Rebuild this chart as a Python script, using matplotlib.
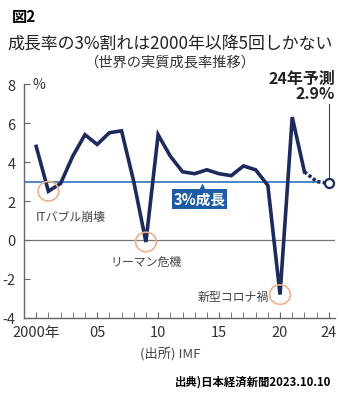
import matplotlib.pyplot as plt
from matplotlib.patches import Ellipse

plt.rcParams['font.family'] = ['Noto Sans CJK JP', 'DejaVu Sans']

years = list(range(2000, 2025))
growth = [4.8, 2.5, 2.9, 4.3, 5.4, 4.9, 5.5, 5.6, 3.0, -0.1,
          5.4, 4.3, 3.5, 3.4, 3.6, 3.4, 3.3, 3.8, 3.6, 2.8,
          -2.8, 6.3, 3.5, 3.0, 2.9]
last_actual = 2022
xtick_pos = [2000, 2005, 2010, 2015, 2020, 2024]
xtick_lab = ['2000年', '05', '10', '15', '20', '24']
yticks = [-4, -2, 0, 2, 4, 6, 8]
events = {2001: 'ITバブル崩壊', 2009: 'リーマン危機', 2020: '新型コロナ禍'}

navy = '#1d2a5c'
blue = '#4a86c8'
gray = '#444444'

fig = plt.figure(figsize=(3.4, 4.02), dpi=100)
ax = fig.add_axes([0.0706, 0.2065, 0.9144, 0.582])

k = years.index(last_actual)
ax.axhline(0, color='#777777', lw=0.9, zorder=1)
ax.plot([1999, 2023], [3, 3], color=blue, lw=1.4, zorder=2)
ax.plot(years[:k + 1], growth[:k + 1], color=navy, lw=2.6,
        solid_joinstyle='miter', zorder=3)
ax.plot(years[k:], growth[k:], color=navy, lw=2.6,
        linestyle=(0, (0.9, 0.6)), zorder=3)
ax.plot(years[-1], growth[-1], 'o', ms=6.5, mfc='white', mec=navy,
        mew=1.6, zorder=5)

# event circles and labels
for yr, lab in events.items():
    v = growth[years.index(yr)]
    ax.add_patch(Ellipse((yr, v), 1.7, 1.0, fill=False,
                         ec='#eeb08e', lw=1.2, zorder=4))
ax.text(1999.95, 1.2, events[2001], fontsize=8.6, color=gray,
        ha='left', va='center')
ax.text(2009, -1.07, events[2009], fontsize=8.6, color=gray,
        ha='center', va='center')
ax.text(2019.1, -2.9, events[2020], fontsize=8.6, color=gray,
        ha='right', va='center')

# 3% label box
ax.text(2013.4, 2.1, '3%成長', fontsize=10.5, color='white',
        weight='bold', ha='center', va='center',
        bbox=dict(boxstyle='square,pad=0.12', fc='#1f5ca6', ec='none'))
ax.plot(2013.6, 2.72, marker='^', ms=6, color='#1f5ca6', mec='none',
        zorder=6)

# forecast callout
ax.plot([2024, 2024], [7.0, 3.2], color=gray, lw=0.8, zorder=4)
ax.text(2024.5, 7.93, '24年予測\n2.9%', fontsize=11.5, weight='bold',
        color='#222222', ha='right', va='center', linespacing=0.95,
        clip_on=False)

ax.set_xlim(1999.0, 2024.5)
ax.set_ylim(-4, 8)
ax.set_xticks(years, minor=True)
ax.set_xticks(xtick_pos)
ax.set_xticklabels(xtick_lab)
ax.set_yticks(yticks)
ax.set_yticklabels([str(t) for t in yticks])
ax.tick_params(axis='x', which='both', direction='in', length=4,
               color='#666666', labelsize=10.5, labelcolor='#333333', pad=5)
ax.tick_params(axis='y', direction='in', length=4, color='#666666',
               labelsize=10.5, labelcolor='#333333', pad=6)
for s in ['top', 'right']:
    ax.spines[s].set_visible(False)
for s in ['left', 'bottom']:
    ax.spines[s].set_color('#666666')
    ax.spines[s].set_linewidth(1.0)
ax.text(1999.7, 8, '%', fontsize=10, color='#333333', va='center')

fig.text(0.035, 0.957, '図2', fontsize=11, weight='bold', va='center')
fig.text(0.5, 0.888, '成長率の3%割れは2000年以降5回しかない', fontsize=12.2,
         ha='center', va='center', color='#222222')
fig.text(0.5, 0.845, '（世界の実質成長率推移）', fontsize=10.3,
         ha='center', va='center', color='#333333')
fig.text(0.5, 0.117, '(出所) IMF', fontsize=9.5, ha='center', va='center',
         color='#444444')
fig.text(0.975, 0.05, '出典)日本経済新聞2023.10.10', fontsize=8.2,
         weight='bold', ha='right', va='center', color='black')

fig.savefig('out.png', dpi=100)
